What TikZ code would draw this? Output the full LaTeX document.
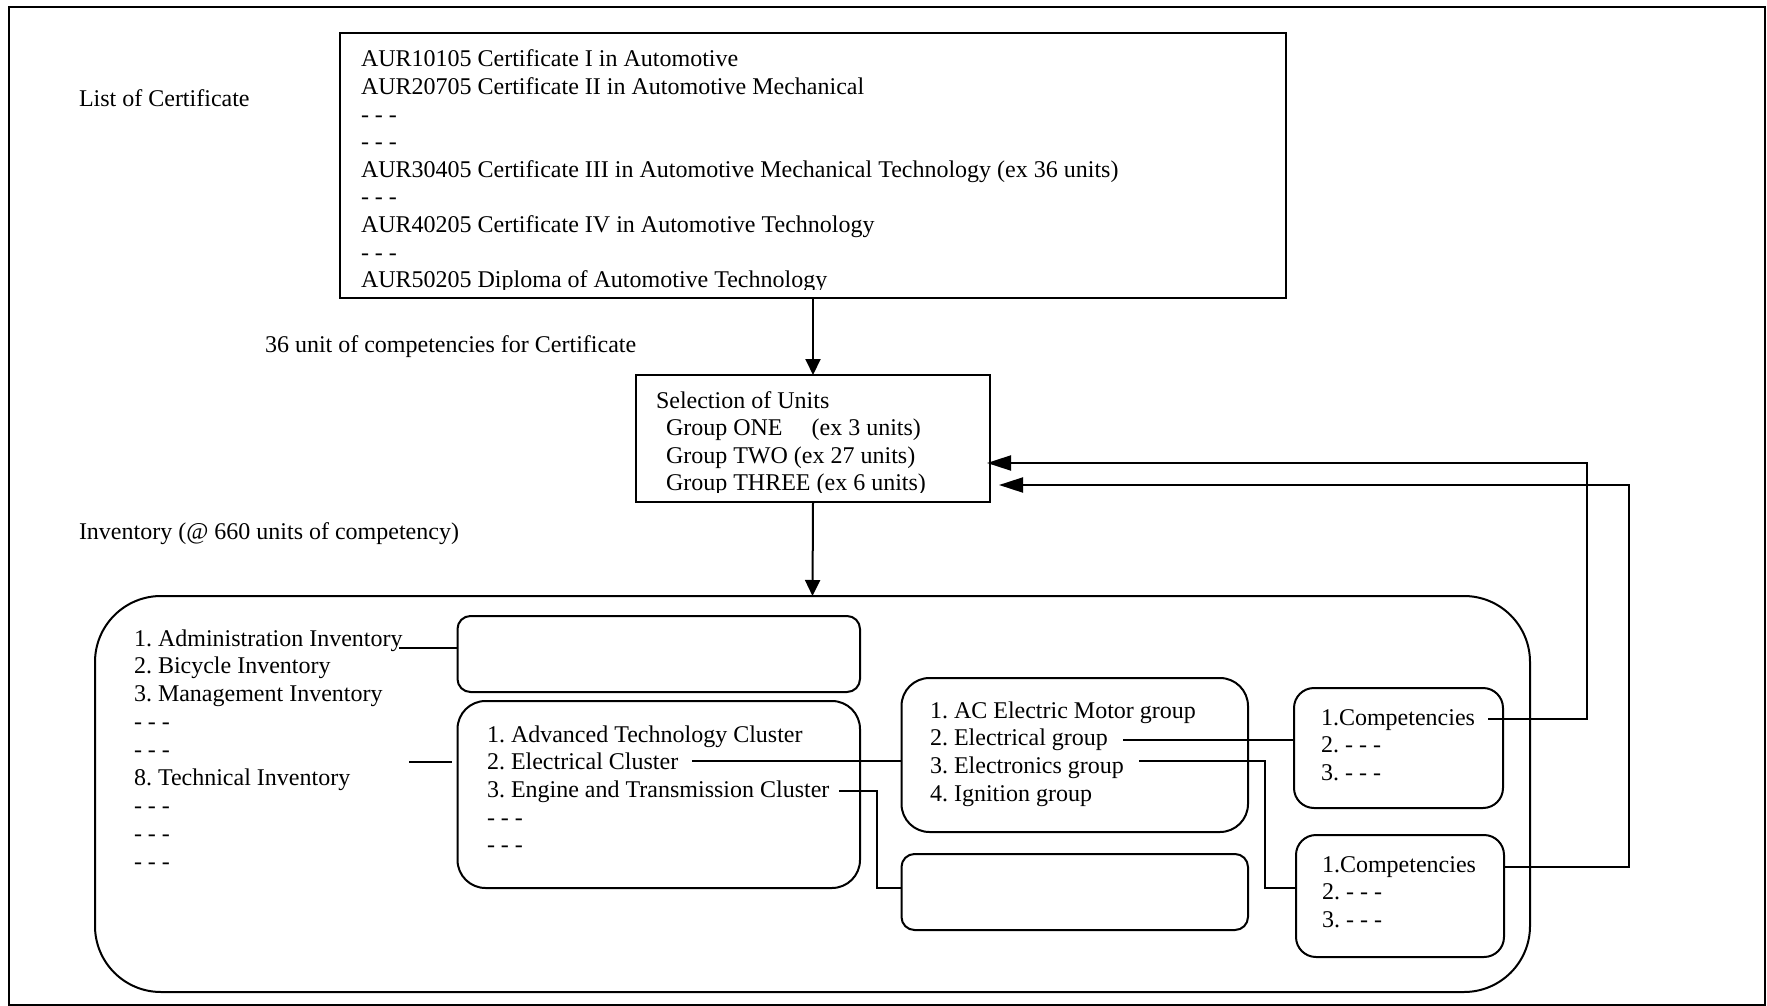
\documentclass[tikz,border=0pt]{standalone}
\usepackage{fontspec}
\setmainfont{Liberation Serif}
\usetikzlibrary{arrows.meta,calc}

\begin{document}
\frenchspacing
\begin{tikzpicture}[x=0.5pt,y=-0.5pt,
  every node/.style={font=\fontsize{12pt}{13.8pt}\selectfont},
  txt/.style={anchor=base west,inner sep=0pt,outer sep=0pt},
  box/.style={draw,line width=1pt,inner sep=0pt,outer sep=0pt},
  conn/.style={line width=1pt},
  darr/.style={conn,-{Triangle[length=8pt,width=7.5pt]}},
  harr/.style={conn,-{Triangle[length=12pt,width=7.5pt]}}]

\useasboundingbox (0,0) rectangle (1767,1006);
\draw[line width=1pt] (8.5,7.5) rectangle (1764.5,1004.5);

% boxes
\node[box,minimum width=473pt,minimum height=132.5pt] (certs) at (813,165.5) {};
\node[box,minimum width=177pt,minimum height=63.5pt] (sel) at (813,438.5) {};
\node[box,rounded corners=33pt,minimum width=717.5pt,minimum height=198pt] (inv) at (812.5,794) {};
\node[box,rounded corners=6.5pt,minimum width=201.25pt,minimum height=38pt] (e1) at (658.75,654) {};
\node[box,rounded corners=14pt,minimum width=201.25pt,minimum height=93.5pt] (clu) at (658.75,794.5) {};
\node[box,rounded corners=14pt,minimum width=173.25pt,minimum height=77pt] (ac) at (1074.75,755) {};
\node[box,rounded corners=6.5pt,minimum width=173.25pt,minimum height=38pt] (e2) at (1074.75,892) {};
\node[box,rounded corners=10pt,minimum width=104.5pt,minimum height=60pt] (c1) at (1398.5,748) {};
\node[box,rounded corners=10pt,minimum width=104pt,minimum height=61pt] (c2) at (1400,896) {};

% free labels
\node[txt] (lcert) at (79,106.5) {List of Certificate};
\node[txt] (lunits) at (265,352) {36 unit of competencies for Certificate};
\node[txt] (linv) at (79,539) {Inventory (@ 660 units of competency)};

% certificate list
\begin{scope}
\clip (340,33) rectangle (1286,289);
\node[txt] (cert1) at (361,67) {AUR10105 Certificate I in Automotive};
\node[txt] (cert2) at (361,94.6) {AUR20705 Certificate II in Automotive Mechanical};
\node[txt] (cert3) at (361,122.2) {- - -};
\node[txt] (cert4) at (361,149.8) {- - -};
\node[txt] (cert5) at (361,177.4) {AUR30405 Certificate III in Automotive Mechanical Technology (ex 36 units)};
\node[txt] (cert6) at (361,205) {- - -};
\node[txt] (cert7) at (361,232.6) {AUR40205 Certificate IV in Automotive Technology};
\node[txt] (cert8) at (361,260.2) {- - -};
\node[txt] (cert9) at (361,287.8) {AUR50205 Diploma of Automotive Technology};
\end{scope}

% unit selection
\begin{scope}
\clip (636,375) rectangle (990,492);
\node[txt] (sel1) at (656,408) {Selection of Units};
\node[txt] (sel2) at (666,435.6) {Group ONE\hspace{14.5pt}(ex 3 units)};
\node[txt] (sel3) at (666,463.2) {Group TWO (ex 27 units)};
\node[txt] (sel4) at (666,490.8) {Group THREE (ex 6 units)};
\end{scope}

% inventories
\node[txt] (inv1) at (134,646) {1. Administration Inventory};
\node[txt] (inv2) at (134,673.9) {2. Bicycle Inventory};
\node[txt] (inv3) at (134,701.8) {3. Management Inventory};
\node[txt] (inv4) at (134,729.7) {- - -};
\node[txt] (inv5) at (134,757.6) {- - -};
\node[txt] (inv6) at (134,785.5) {8. Technical Inventory};
\node[txt] (inv7) at (134,813.4) {- - -};
\node[txt] (inv8) at (134,841.3) {- - -};
\node[txt] (inv9) at (134,869.2) {- - -};

% clusters
\node[txt] (clu1) at (487,742.3) {1. Advanced Technology Cluster};
\node[txt] (clu2) at (487,769.9) {2. Electrical Cluster};
\node[txt] (clu3) at (487,797.5) {3. Engine and Transmission Cluster};
\node[txt] (clu4) at (487,825.1) {- - -};
\node[txt] (clu5) at (487,852.7) {- - -};

% groups
\node[txt] (grp1) at (930,718.3) {1. AC Electric Motor group};
\node[txt] (grp2) at (930,745.9) {2. Electrical group};
\node[txt] (grp3) at (930,773.5) {3. Electronics group};
\node[txt] (grp4) at (930,801.1) {4. Ignition group};

% competencies
\node[txt] (ca1) at (1321,725) {1.Competencies};
\node[txt] (ca2) at (1321,752.6) {2. - - -};
\node[txt] (ca3) at (1321,780.2) {3. - - -};
\node[txt] (cb1) at (1322,872) {1.Competencies};
\node[txt] (cb2) at (1322,899.6) {2. - - -};
\node[txt] (cb3) at (1322,927.2) {3. - - -};

% connector end points
\coordinate (adm) at (399,648);
\coordinate (tecA) at (409,762);
\coordinate (tecB) at (452,762);
\coordinate (ecl) at (692,761);
\coordinate (eng) at (839,790.7);
\coordinate (engB) at (876.5,888);
\coordinate (egp) at (1123,740);
\coordinate (enp) at (1139,761);
\coordinate (enpB) at (1264.6,888);
\coordinate (fb1) at (1488,719);
\coordinate (fb1B) at (1587,463);
\coordinate (fb2) at (1503,867);
\coordinate (fb2B) at (1629,485);

% main flow
\draw[darr] (certs.south) -- (sel.north);
\draw[darr] (sel.south) -- (inv.north);

% links inside the inventory
\draw[conn] (adm) -- (adm -| e1.west);
\draw[conn] (tecA) -- (tecB);
\draw[conn] (ecl) -- (ecl -| ac.west);
\draw[conn] (eng) -| (engB) -- (engB -| e2.west);
\draw[conn] (egp) -- (egp -| c1.west);
\draw[conn] (enp) -| (enpB) -- (enpB -| c2.west);

% feedback into the selection
\draw[harr] (fb1) -| (fb1B) -- ($(fb1B -| sel.east)+(-3,0)$);
\draw[harr] (fb2) -| (fb2B) -- ($(fb2B -| sel.east)+(9,0)$);

\end{tikzpicture}
\end{document}
